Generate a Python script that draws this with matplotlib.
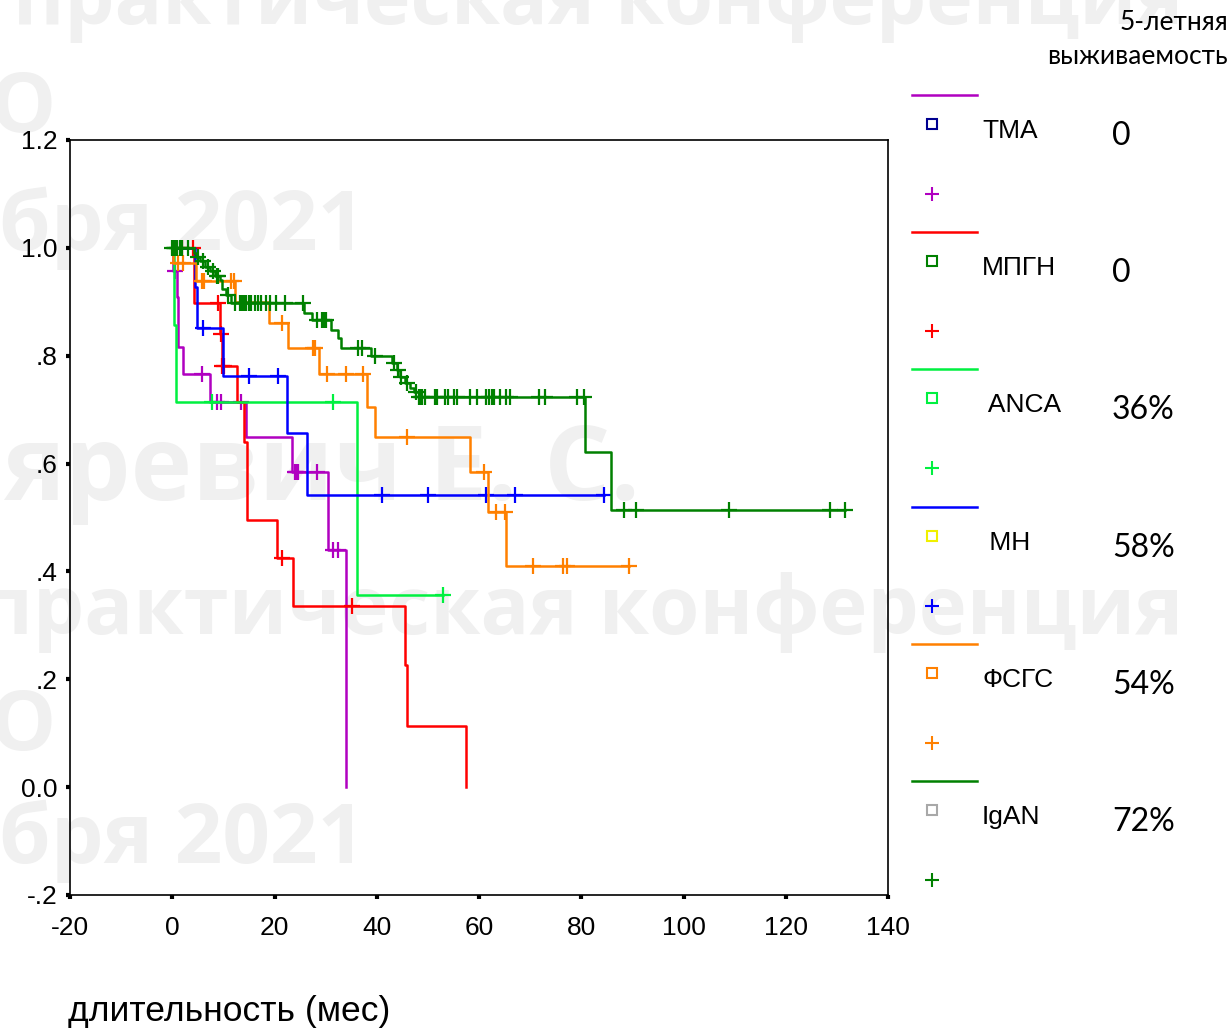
import numpy as np
import matplotlib
matplotlib.use("Agg")
import matplotlib.pyplot as plt

plt.rcParams['font.family'] = ['Liberation Sans', 'DejaVu Sans']
plt.rcParams['axes.unicode_minus'] = False

# Kaplan-Meier data per group: event times (months), survival after each event, censored times
groups = ['TMA', 'МПГН', ' ANCA', ' МН', 'ФСГС', 'IgAN']
five_year = ['0', '0', '36%', '58%', '54%', '72%']

tma_t = [0.2, 0.9, 1.2, 2.2, 7.3, 14.5, 23.4, 30.4, 33.9]
tma_s = [0.958, 0.909, 0.817, 0.766, 0.715, 0.650, 0.584, 0.440, 0.0]
tma_cens = [0.6, 5.8, 8.7, 9.6, 13.4, 24.0, 24.3, 24.6, 28.4, 31.4, 32.5]

mpgn_t = [4.3, 9.3, 9.7, 12.7, 14.1, 14.6, 20.5, 23.6, 45.6, 46.0, 57.5]
mpgn_s = [0.898, 0.840, 0.780, 0.715, 0.640, 0.495, 0.424, 0.336, 0.226, 0.113, 0.0]
mpgn_cens = [1.9, 4.0, 9.0, 9.5, 9.8, 10.2, 21.5, 35.2]

anca_t = [0.4, 0.8, 36.1]
anca_s = [0.857, 0.714, 0.357]
anca_cens = [7.8, 31.4, 52.9]

mh_t = [4.5, 4.9, 10.0, 22.4, 26.4]
mh_s = [0.928, 0.851, 0.763, 0.656, 0.542]
mh_cens = [6.1, 15.1, 20.6, 41.0, 50.0, 61.4, 67.1, 84.4]

fsgs_t = [0.1, 4.7, 12.3, 19.0, 22.6, 28.8, 38.1, 39.7, 58.3, 61.7, 65.3]
fsgs_s = [0.971, 0.939, 0.900, 0.860, 0.814, 0.766, 0.705, 0.650, 0.584, 0.510, 0.410]
fsgs_cens = [1.2, 2.2, 5.9, 6.2, 11.4, 12.1, 21.5, 27.5, 27.9, 30.3, 33.9, 37.3,
             46.0, 60.9, 63.3, 65.0, 70.6, 76.5, 77.2, 89.3]

igan_t = [4.2, 4.7, 5.5, 6.5, 7.4, 8.4, 9.3, 9.7, 10.6, 11.4, 25.7, 27.3, 31.0,
          32.5, 33.0, 38.8, 43.0, 44.0, 44.6, 45.6, 46.5, 47.2, 48.2, 80.8, 85.8]
igan_s = [0.991, 0.983, 0.975, 0.965, 0.957, 0.948, 0.940, 0.924, 0.912, 0.898,
          0.880, 0.866, 0.848, 0.832, 0.814, 0.800, 0.786, 0.774, 0.761, 0.749,
          0.740, 0.733, 0.724, 0.622, 0.514]
igan_cens = [0.0, 0.3, 0.6, 1.0, 1.5, 1.9, 3.0, 5.0, 6.0, 7.0, 8.0, 8.8, 9.0, 10.9,
             12.2, 13.3, 13.7, 14.1, 14.5, 15.0, 15.5, 16.2, 16.8, 17.4, 18.3, 19.2,
             20.2, 22.1, 25.5, 28.3, 29.2, 29.6, 30.1, 36.4, 37.1, 39.7, 43.3, 44.2,
             44.8, 45.9, 47.6, 48.2, 48.6, 48.9, 49.5, 51.3, 51.8, 53.4, 53.9, 55.2,
             55.7, 58.3, 59.6, 61.3, 61.9, 62.6, 63.0, 64.2, 65.2, 66.1, 71.7, 73.0,
             79.2, 80.5, 88.3, 90.8, 108.9, 128.6, 131.6]

line_colors = ['#B000C0', '#FF0000', '#00F040', '#0000FF', '#FF8000', '#008000']
square_colors = ['#000090', '#008000', '#00F040', '#F0F000', '#FF8000', '#A8A8A8']

curves = [(tma_t, tma_s, tma_cens), (mpgn_t, mpgn_s, mpgn_cens), (anca_t, anca_s, anca_cens),
          (mh_t, mh_s, mh_cens), (fsgs_t, fsgs_s, fsgs_cens), (igan_t, igan_s, igan_cens)]

W, H = 1231, 1030
fig = plt.figure(figsize=(W / 100, H / 100), dpi=100)

# faint background lettering, pixel coordinates
bg = fig.add_axes([0, 0, 1, 1], zorder=-1)
bg.set_xlim(0, W)
bg.set_ylim(H, 0)
bg.axis('off')
wm_text = ['практическая конференция', 'О', 'бря 2021', 'яревич Е. С.',
           'практическая конференция', 'О', 'бря 2021']
wm_x = [1183, 55, 365, 640, 1183, 55, 365]
wm_y = [24, 132, 250, 500, 634, 750, 863]
wm_size = [57, 60, 60, 75, 58.5, 60, 60]
for s, x, y, fs in zip(wm_text, wm_x, wm_y, wm_size):
    bg.text(x, y, s, ha='right', va='baseline', fontsize=fs, fontweight='bold',
            family=['Open Sans', 'DejaVu Sans'], color='#F0F0F0')

ax = fig.add_axes([70 / W, 1 - 895 / H, (888 - 70) / W, (895 - 140) / H])
ax.set_facecolor('none')

for (et, es, ct), col in zip(curves, line_colors):
    end = max(et[-1], max(ct))
    ax.step([0] + et + [end], [1.0] + es + [es[-1]], where='post', color=col, lw=1.8)
    idx = np.searchsorted(et, ct, side='right')
    cs = np.r_[1.0, es][idx]
    ax.plot(ct, cs, ls='none', marker='+', ms=11, mew=1.6, color=col)

ax.set_xlim(-20, 140)
ax.set_ylim(-0.2, 1.2)
ax.set_xticks(np.arange(-20, 141, 20))
ax.set_yticks([-0.2, 0.0, 0.2, 0.4, 0.6, 0.8, 1.0, 1.2])
ax.set_yticklabels(['-.2', '0.0', '.2', '.4', '.6', '.8', '1.0', '1.2'])
ax.tick_params(direction='out', length=3, width=3, labelsize=19, pad=6)
ax.tick_params(axis='x', pad=12)
for sp in ax.spines.values():
    sp.set_linewidth(1.2)

fig.text(68 / W, 1 - 1012 / H, 'длительность (мес)', fontsize=25.5, ha='left', va='center')

# legend block on the right
leg = fig.add_axes([0, 0, 1, 1], zorder=2)
leg.set_xlim(0, W)
leg.set_ylim(H, 0)
leg.axis('off')
leg.text(1228, 22, '5-летняя', ha='right', va='center', fontsize=19,
         family=['Lato', 'Open Sans'])
leg.text(1228, 56, 'выживаемость', ha='right', va='center', fontsize=19,
         family=['Lato', 'Open Sans'])
for i, name in enumerate(groups):
    y0 = 95 + i * 137.2
    leg.plot([912, 977], [y0, y0], color=line_colors[i], lw=1.8)
    leg.plot([932], [y0 + 29], marker='s', ms=7, mfc='none', mew=1.5, color=square_colors[i])
    leg.plot([932], [y0 + 99], marker='+', ms=10, mew=1.5, color=line_colors[i])
    leg.text(982, y0 + 36, name, ha='left', va='center', fontsize=19,
             family=['Liberation Sans Narrow', 'Liberation Sans'])
    leg.text(1112, y0 + 41, five_year[i], ha='left', va='center', fontsize=23,
             family=['Lato', 'Open Sans'])

fig.savefig('out.png', dpi=100)
